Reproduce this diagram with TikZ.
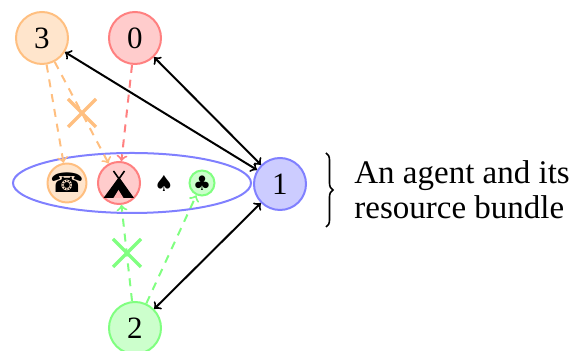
\documentclass[tikz,border=0pt]{standalone}
\usepackage{fontspec}
\setmainfont{Liberation Serif}
\newfontfamily\symfont{DejaVu Sans}
\usetikzlibrary{decorations.pathreplacing,shapes.geometric,arrows.meta}
\tikzset{
  agent/.style={circle,draw=#1!50,fill=#1!20,line width=1pt,minimum size=26pt,inner sep=0pt,font=\fontsize{15.5}{15.5}\selectfont},
  item/.style={circle,draw=#1!50,fill=#1!20,line width=1pt,inner sep=0pt},
  link/.style={black,line width=1pt,<->,>={to[scale=1.1]}},
  claim/.style={#1!50,line width=1pt,dash pattern=on 4pt off 3.5pt,->,>={to[scale=1.1]}},
  crossmark/.style={#1!50,line width=1.7pt},
}
\begin{document}
\begin{tikzpicture}[x=0.5pt,y=-0.5pt]
\useasboundingbox (0,0) rectangle (575,351);
\node[agent=orange] (a3) at (42,38) {3};
\node[agent=red] (a0) at (135,38) {0};
\node[agent=blue] (a1) at (280,184) {1};
\node[agent=green] (a2) at (135,328) {2};
\node[draw=blue!50,line width=1pt,ellipse,minimum width=119pt,minimum height=30pt,inner sep=0pt] (bundle) at (132,183) {};
\node[item=orange,minimum size=18pt] (phone) at (67,183) {\symfont\fontsize{13.5}{13.5}\selectfont ☎};
\node[item=red,minimum size=21pt] (tipi) at (119,183) {};
\node[inner sep=0pt] (spade) at (164,183) {\symfont\fontsize{11}{11}\selectfont ♠};
\node[item=green,minimum size=12.5pt] (club) at (202,183) {\symfont\fontsize{10}{10}\selectfont ♣};
% tipi glyph
\fill[black] (103.5,198) -- (119,177) -- (134,198) -- cycle;
\draw[black,line width=0.8pt] (113.5,171) -- (124,186) (124.5,171) -- (114,186);
\fill[red!30] (113.5,198) -- (118.5,190) -- (123.5,198) -- cycle;
% links
\draw[link] (a3) -- (a1);
\draw[link] (a0) -- (a1);
\draw[link] (a2) -- (a1);
% dashed claims
\draw[claim=orange] (a3) -- (phone);
\draw[claim=orange] (a3) -- (tipi);
\draw[claim=red] (a0) -- (tipi);
\draw[claim=green] (a2) -- (tipi);
\draw[claim=green] (a2) -- (club);
% crosses
\coordinate (x1) at (82,113);
\coordinate (x2) at (127,253);
\draw[crossmark=orange] ([shift={(-14,-14)}]x1) -- ([shift={(14,14)}]x1) ([shift={(-14,14)}]x1) -- ([shift={(14,-14)}]x1);
\draw[crossmark=green] ([shift={(-14,-14)}]x2) -- ([shift={(14,14)}]x2) ([shift={(-14,14)}]x2) -- ([shift={(14,-14)}]x2);
% brace
\coordinate (b1) at (326,153);
\coordinate (b2) at (326,227);
\draw[black,line width=0.8pt,decorate,decoration={brace,amplitude=3.5pt}] (b1) -- (b2);
\node[anchor=west,inner sep=0pt,font=\fontsize{16.5}{17.5}\selectfont,align=left] (label) at (354,190) {An agent and its\\resource bundle};
\end{tikzpicture}
\end{document}
